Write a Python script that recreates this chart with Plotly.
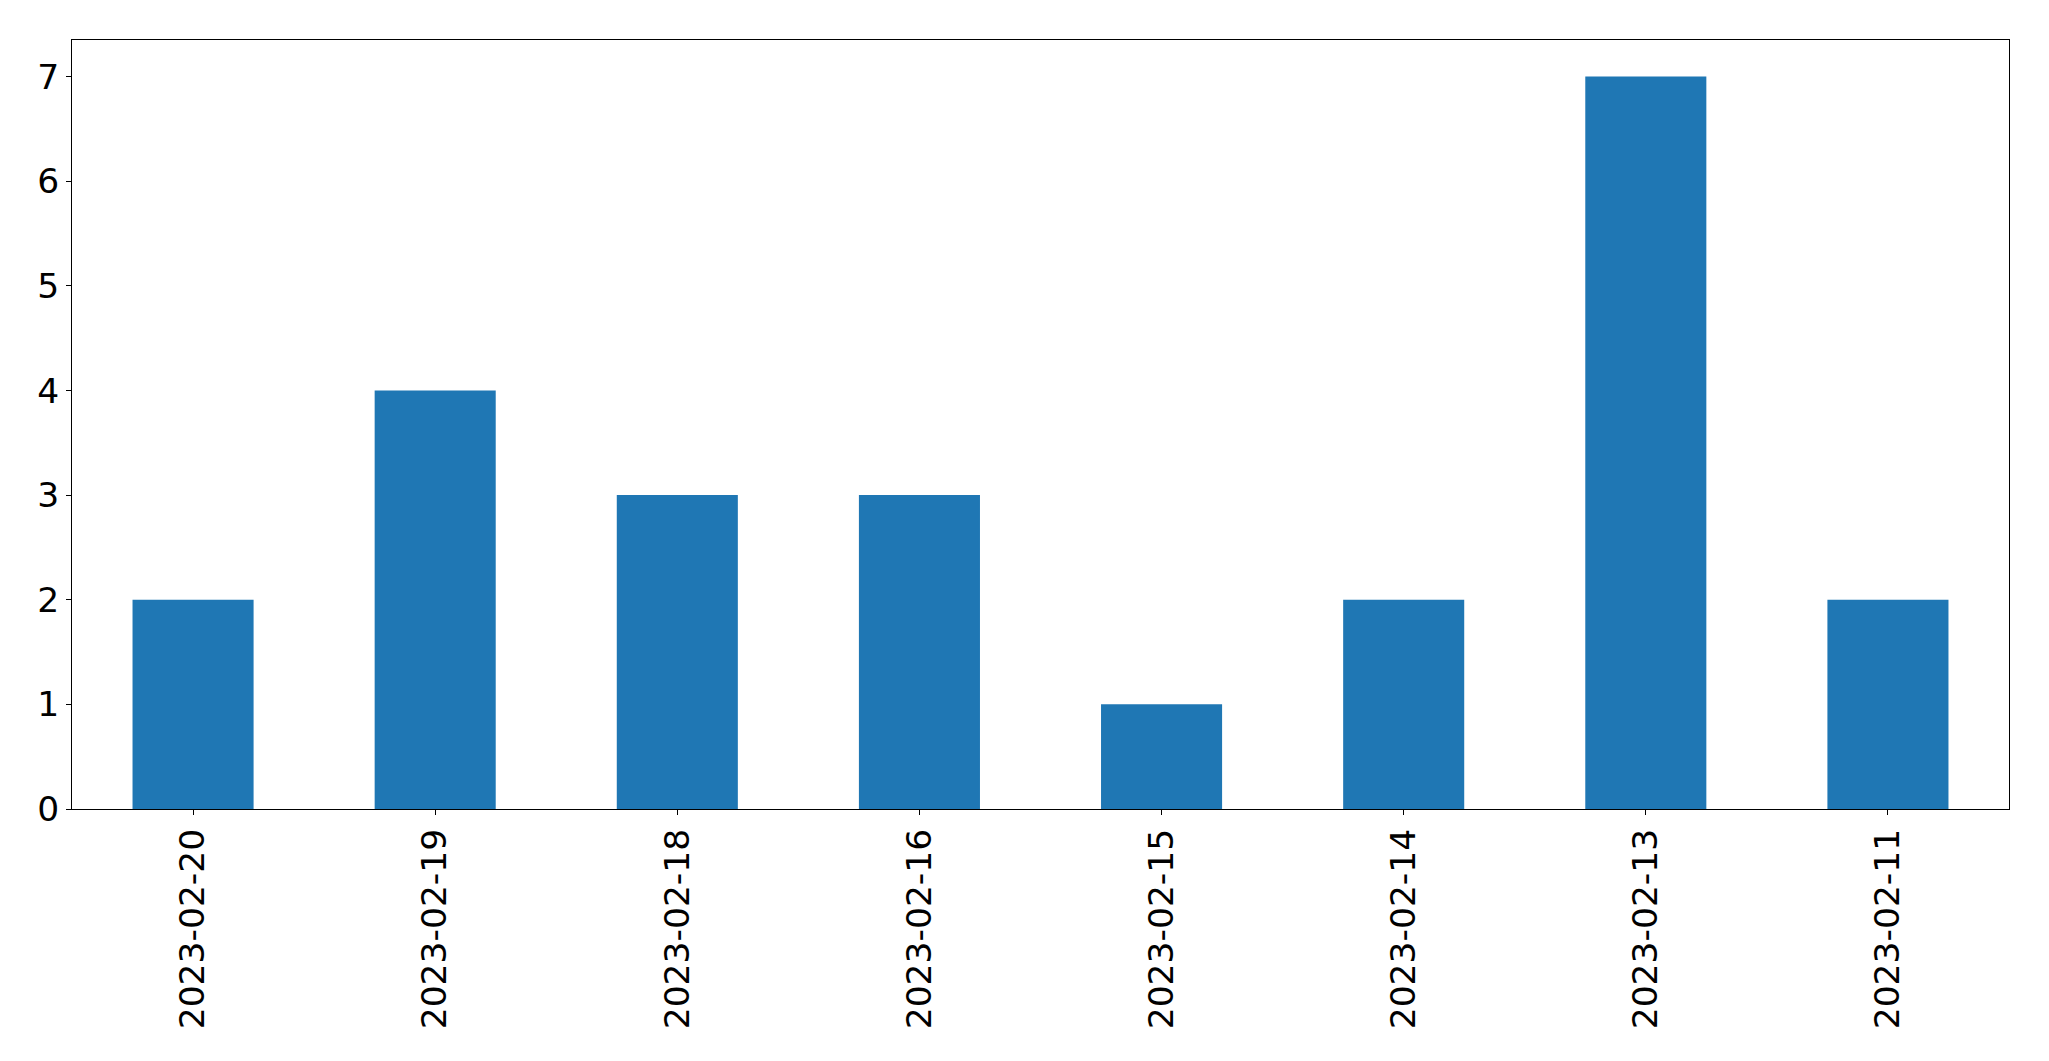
import plotly.graph_objects as go

dates = ["2023-02-20", "2023-02-19", "2023-02-18", "2023-02-16",
         "2023-02-15", "2023-02-14", "2023-02-13", "2023-02-11"]
counts = [2, 4, 3, 3, 1, 2, 7, 2]

fig = go.Figure(go.Bar(x=dates, y=counts, marker_color="#1f77b4",
                       marker_line_width=0, width=0.5))

axis_common = dict(showline=True, linecolor="black", linewidth=1, mirror=True,
                   ticks="outside", ticklen=5, tickwidth=1, tickcolor="black",
                   showgrid=False, zeroline=False,
                   tickfont=dict(family="DejaVu Sans", size=34.5, color="black"))

fig.update_layout(
    width=2049, height=1061,
    margin=dict(l=64, r=48, t=32, b=260, autoexpand=False),
    plot_bgcolor="white", paper_bgcolor="white",
    showlegend=False,
    bargap=0.5,
    xaxis=dict(type="category", range=[-0.5, 7.5], tickangle=-90, **axis_common),
    yaxis=dict(range=[0, 7.35], tickmode="linear", tick0=0, dtick=1, **axis_common),
)

fig.write_html("out.html")
